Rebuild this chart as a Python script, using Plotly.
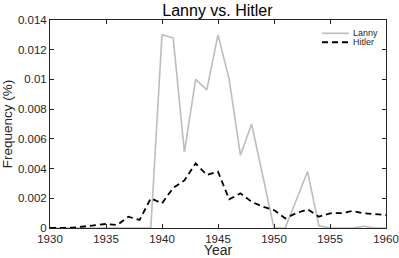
import plotly.graph_objects as go

years = list(range(1930, 1961))
lanny = [0, 0, 0, 0, 0, 0, 0, 0, 0, 0,
         0.0130, 0.0128, 0.0051, 0.0100, 0.0093, 0.0130, 0.0100, 0.0049, 0.0070, 0.0035,
         0, 0, 0.0019, 0.0038, 0.00015, 0, 0, 0, 0.00012, 0, 0]
hitler = [0, 0, 0.00002, 0.0001, 0.0002, 0.00027, 0.0002, 0.00076, 0.00054, 0.0020,
          0.00166, 0.0027, 0.0032, 0.00435, 0.00357, 0.00379, 0.00193, 0.00233, 0.00177, 0.00143,
          0.00121, 0.00065, 0.0010, 0.00126, 0.00076, 0.00099, 0.0010, 0.00114, 0.00099, 0.00094,
          0.00087]
xticks = [1930, 1935, 1940, 1945, 1950, 1955, 1960]
yticks = [0, 0.002, 0.004, 0.006, 0.008, 0.01, 0.012, 0.014]
ytick_labels = ["0", "0.002", "0.004", "0.006", "0.008", "0.01", "0.012", "0.014"]
series_names = ["Lanny", "Hitler"]

FONT = "Liberation Sans, Arial, Helvetica"
lanny_line = dict(color="#bdbdbd", width=1.6)
hitler_line = dict(color="black", width=1.8, dash="6px,4px")

fig = go.Figure()
fig.add_trace(go.Scatter(x=years, y=lanny, mode="lines", name=series_names[0],
                         line=lanny_line, showlegend=False, hoverinfo="skip"))
fig.add_trace(go.Scatter(x=years, y=hitler, mode="lines", name=series_names[1],
                         line=hitler_line, showlegend=False, hoverinfo="skip"))

# legend drawn as shapes + annotations (top-right, inside)
lx0, lx1, ltx = 0.8095, 0.889, 0.895
for yy, nm, ln in [(0.936, series_names[0], lanny_line), (0.893, series_names[1], hitler_line)]:
    fig.add_shape(type="line", xref="paper", yref="paper", x0=lx0, x1=lx1, y0=yy, y1=yy,
                  line=ln)
    fig.add_annotation(xref="paper", yref="paper", x=ltx, y=yy, text=nm, showarrow=False,
                       xanchor="left", yanchor="middle",
                       font=dict(size=9, color="#262626", family=FONT))

axis_common = dict(showgrid=False, zeroline=False, showline=True, linecolor="#262626",
                   linewidth=1, mirror="ticks", ticks="inside", ticklen=4, automargin=False,
                   tickcolor="#262626", tickfont=dict(size=11.5, color="#262626", family=FONT))
fig.update_layout(
    width=399, height=258,
    margin=dict(l=50, r=13, t=20, b=30),
    paper_bgcolor="white", plot_bgcolor="white",
    title=dict(text="Lanny vs. Hitler", x=0.545, xanchor="center", y=0.958, yanchor="middle",
               font=dict(size=16, color="black", family=FONT)),
    xaxis=dict(range=[1930, 1960], tickvals=xticks, **axis_common,
               title=dict(text="Year", standoff=0,
                          font=dict(size=14, color="#262626", family=FONT))),
    yaxis=dict(range=[0, 0.014], tickvals=yticks, ticktext=ytick_labels, **axis_common,
               title=dict(text="Frequency (%)", standoff=2,
                          font=dict(size=13.5, color="#262626", family=FONT))),
    showlegend=False,
)
fig.write_html("out.html", post_script="document.body.style.margin='0px';",
               config={"displayModeBar": False})
